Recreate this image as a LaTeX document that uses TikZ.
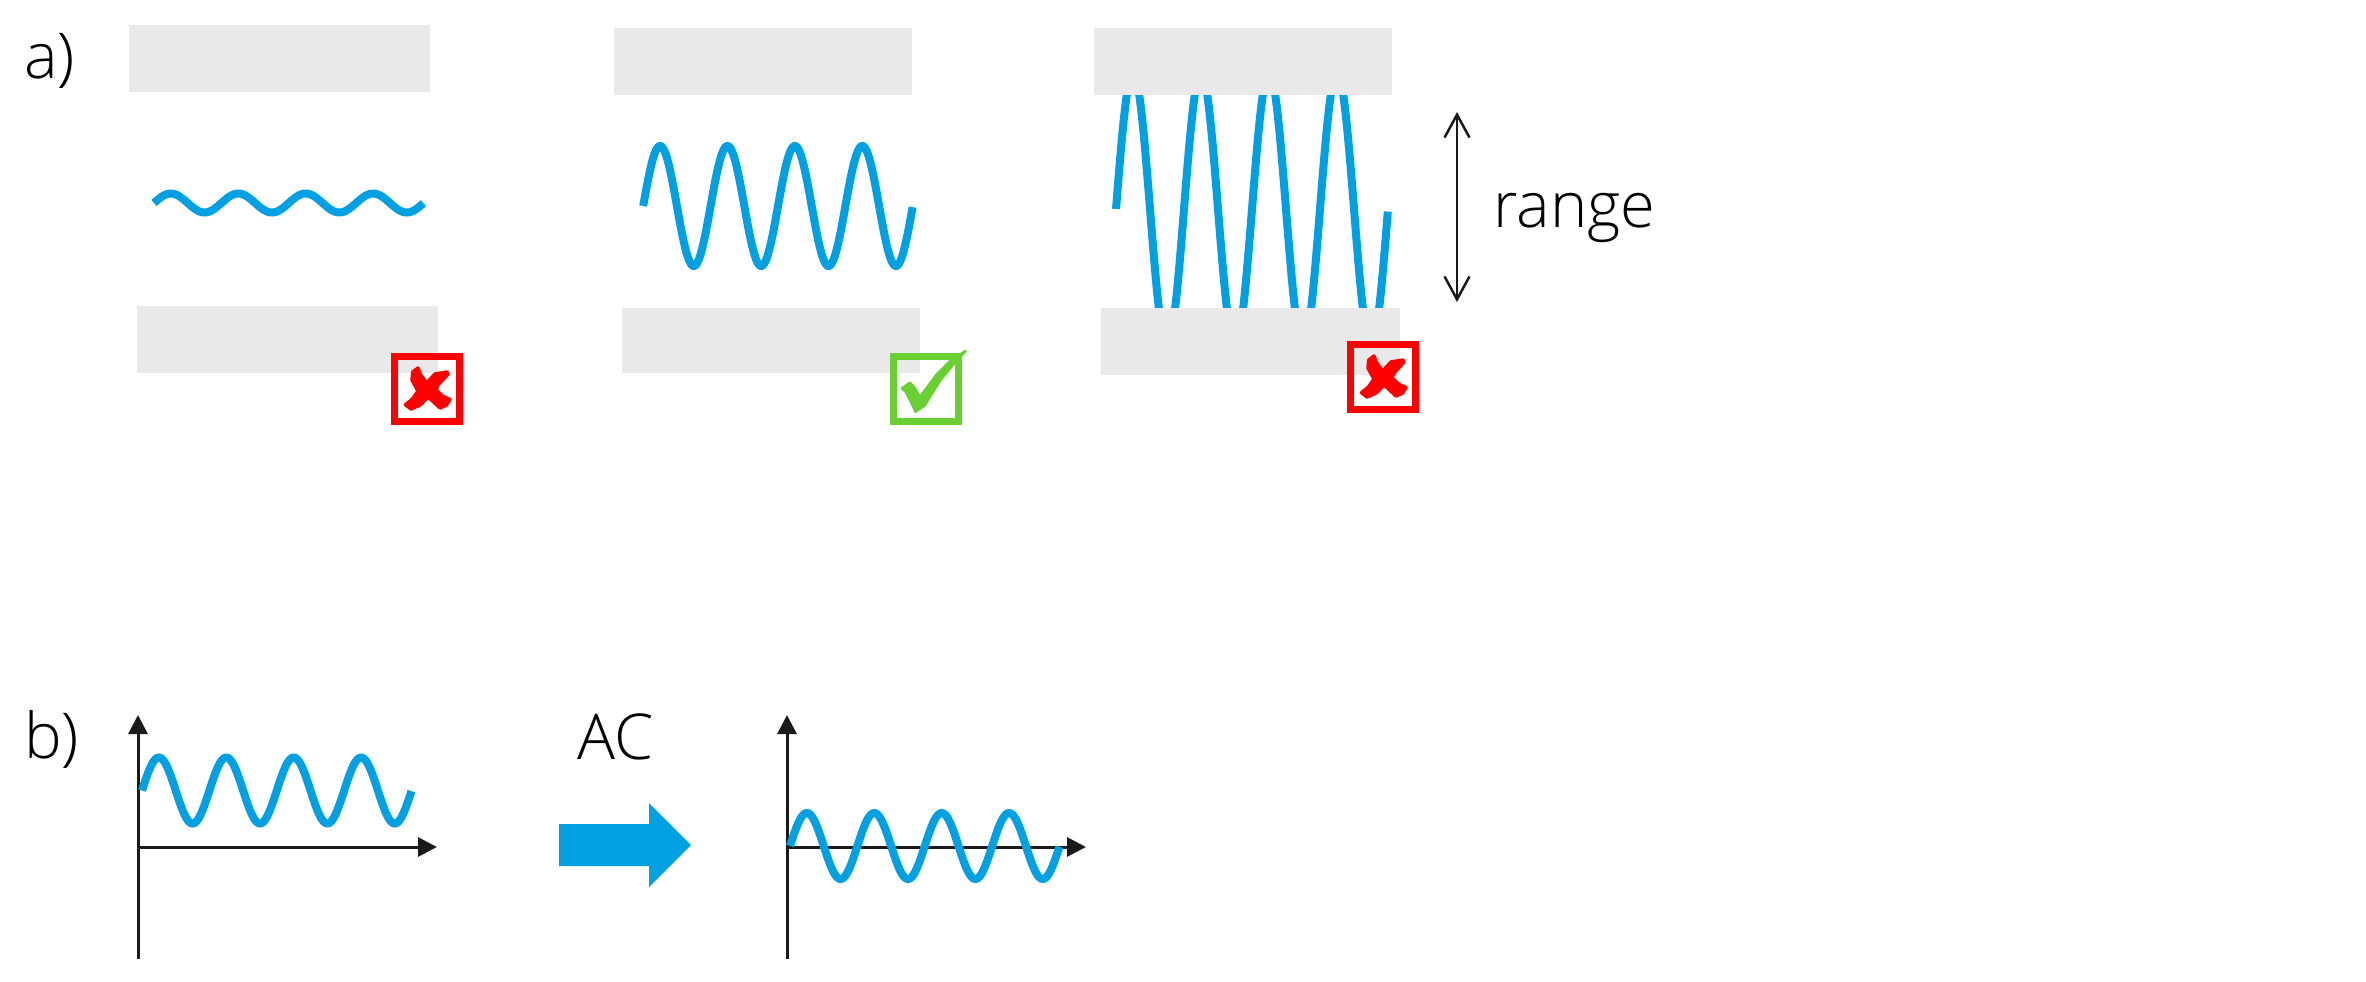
\documentclass[tikz,border=0pt]{standalone}
\usepackage{fontspec}
\setmainfont{Open Sans}[UprightFont=* Light]
\usetikzlibrary{arrows.meta}

\definecolor{wavecol}{HTML}{00A0E3}
\definecolor{axiscol}{HTML}{1A1A1A}
\definecolor{platecol}{HTML}{E9E9E9}
\definecolor{okcol}{HTML}{69CF32}

\tikzset{
  plate/.style={fill=platecol},
  wave/.style={draw=wavecol, line width=1.6mm, domain=0:4, samples=240, variable=\t},
  axis/.style={draw=axiscol, line width=0.6mm, -{Triangle[length=3.8mm, width=3.8mm]}},
  label/.style={inner sep=0pt, anchor=base west, font=\fontsize{36}{36}\selectfont},
}

\begin{document}
\begin{tikzpicture}[x=0.02cm, y=-0.02cm]
\useasboundingbox (0,0) rectangle (2366,981);

% Waves between the plates (the plates are drawn over them)
\draw[wave] plot ({154+67.4*\t}, {203-9.5*sin(360*\t)});
\draw[wave] plot ({643.2+67.4*\t}, {206-60*sin(360*\t)});
\draw[wave] plot ({1116+68*\t}, {209-136*sin(360*\t)});

% Plates
\fill[plate] (129,25) rectangle (430,92);
\fill[plate] (137,306) rectangle (438,373);
\fill[plate] (614,28) rectangle (912,95);
\fill[plate] (622,308) rectangle (920,373);
\fill[plate] (1094,28) rectangle (1392,95);
\fill[plate] (1101,308) rectangle (1400,375);

% Cross marks
\foreach \x/\y in {391/353, 1347/341} {
  \begin{scope}[shift={(\x,\y)}]
    \draw[red, line width=1.4mm] (3.5,3.5) rectangle (68.5,68.5);
    \filldraw[red, line width=0.7mm, line join=round] (27,15) -- (29,21) -- (35.7,30) -- (44,21) -- (56,19) -- (57,21) -- (47,32) -- (45,37) -- (52,43.5) -- (59,46.5) -- (55.5,52) -- (49,55) -- (37.3,44) -- (29,52) -- (20,56) -- (14.5,51.7) -- (21.5,46) -- (27,38) -- (21,27) -- (21.7,19) -- cycle;
  \end{scope}
}

% Tick mark
\draw[okcol, line width=1.4mm] (893.5,356.5) rectangle (958.5,421.5);
\filldraw[okcol, line width=0.5mm, line join=round] (902,388.3) -- (910,382.7) -- (914.5,387.7) -- (920,397) -- (936.7,374.3) -- (950,361) -- (960,354.5) -- (965.7,351) -- (955,362.3) -- (940,380.7) -- (924.5,405.7) -- (915.5,411.7) -- (910,400) -- (905.5,391.7) -- cycle;

% Range arrow
\coordinate (rangetop) at (1457,112);
\coordinate (rangebot) at (1457,302);
\draw[axiscol, line width=0.5mm, {Straight Barb[length=4.6mm, width=5mm]}-{Straight Barb[length=4.6mm, width=5mm]}] (rangetop) -- (rangebot);
\node[label] (range) at (1493,227) {range};

% Panel labels
\node[label] (labela) at (24,78) {a)};
\node[label] (labelb) at (24,758) {b)};

% Left axes
\coordinate (lefto) at (138,847);
\coordinate (lefttop) at (138,715);
\coordinate (leftbot) at (138,959);
\coordinate (leftend) at (437,847);
\draw[axis] (leftbot) -- (lefttop);
\draw[axis] (lefto) -- (leftend);
\draw[wave] plot ({142+67.4*\t}, {790.5-33*sin(360*\t)});

% AC arrow
\fill[wavecol] (559,824) -- (649,824) -- (649,803) -- (691,845) -- (649,887) -- (649,866) -- (559,866) -- cycle;
\node[label] (ac) at (577,759) {AC};

% Right axes
\coordinate (righto) at (787,847);
\coordinate (righttop) at (787,715);
\coordinate (rightbot) at (787,959);
\coordinate (rightend) at (1086,847);
\draw[axis] (rightbot) -- (righttop);
\draw[axis] (righto) -- (rightend);
\draw[wave] plot ({790+67.4*\t}, {846-33*sin(360*\t)});

\end{tikzpicture}
\end{document}
